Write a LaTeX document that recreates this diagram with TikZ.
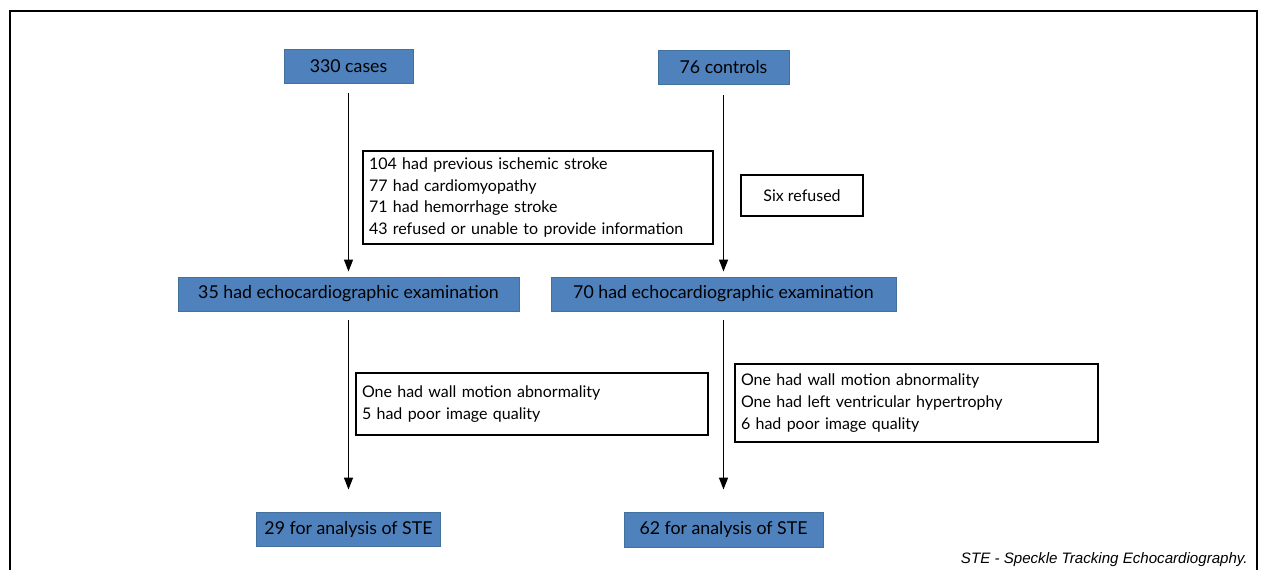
\documentclass[tikz,border=0pt]{standalone}
\usepackage{fontspec}
\setmainfont{Lato}
\setsansfont{Liberation Sans}
\usetikzlibrary{arrows.meta}
\definecolor{stageblue}{HTML}{4F81BD}
\definecolor{stageedge}{HTML}{41719C}
\begin{document}
\begin{tikzpicture}[
  every node/.style={font=\fontsize{9.1}{12.4}\selectfont},
  stage/.style={draw=stageedge, fill=stageblue, line width=0.5pt, align=center, inner sep=0pt,
    font=\fontsize{10.1}{12}\selectfont},
  excl/.style={draw, line width=0.6pt, align=left, inner sep=0.12cm},
  flow/.style={-{Triangle[length=2.4mm,width=1.8mm]}, line width=0.8pt}
]
  \useasboundingbox (0,0) rectangle (25.24,-11.4);
  % outer frame, open at the bottom
  \draw[line width=0.7pt] (0.2,-11.4) -- (0.2,-0.22) -- (25.14,-0.22) -- (25.14,-11.4);

  \node[stage, minimum width=2.58cm, minimum height=0.68cm] (cases) at (6.97,-1.32) {330 cases};
  \node[stage, minimum width=2.62cm, minimum height=0.68cm] (controls) at (14.47,-1.34) {76 controls};

  \node[excl, text width=6.76cm, minimum height=1.86cm] (exclcases) at (10.76,-3.95)
    {104 had previous ischemic stroke\\77 had cardiomyopathy\\71 had hemorrhage stroke\\43 refused or unable to provide information};
  \node[excl, align=center, minimum width=2.44cm, minimum height=0.82cm] (exclcontrols) at (16.04,-3.91) {Six refused};

  \node[stage, minimum width=6.82cm, minimum height=0.68cm] (echocases) at (6.97,-5.88) {35 had echocardiographic examination};
  \node[stage, minimum width=6.90cm, minimum height=0.68cm] (echocontrols) at (14.47,-5.88) {70 had echocardiographic examination};

  \node[excl, text width=6.80cm, minimum height=1.24cm] (poorcases) at (10.64,-8.08)
    {One had wall motion abnormality\\5 had poor image quality};
  \node[excl, text width=7.02cm, minimum height=1.56cm] (poorcontrols) at (18.33,-8.06)
    {One had wall motion abnormality\\One had left ventricular hypertrophy\\6 had poor image quality};

  \node[stage, minimum width=3.68cm, minimum height=0.68cm] (stecases) at (6.97,-10.58) {29 for analysis of STE};
  \node[stage, minimum width=3.98cm, minimum height=0.70cm] (stecontrols) at (14.47,-10.59) {62 for analysis of STE};

  \node[anchor=east, inner sep=0pt, font=\sffamily\itshape\fontsize{8.6}{10}\selectfont] (abbrev) at (24.96,-11.2) {STE - Speckle Tracking Echocardiography.};

  \draw[flow, shorten <=0.2cm, shorten >=0.1cm] (cases) -- (echocases);
  \draw[flow, shorten <=0.22cm, shorten >=0.1cm] (controls) -- (echocontrols);
  \draw[flow, shorten <=0.18cm, shorten >=0.44cm] (echocases) -- (stecases);
  \draw[flow, shorten <=0.18cm, shorten >=0.44cm] (echocontrols) -- (stecontrols);
\end{tikzpicture}
\end{document}
